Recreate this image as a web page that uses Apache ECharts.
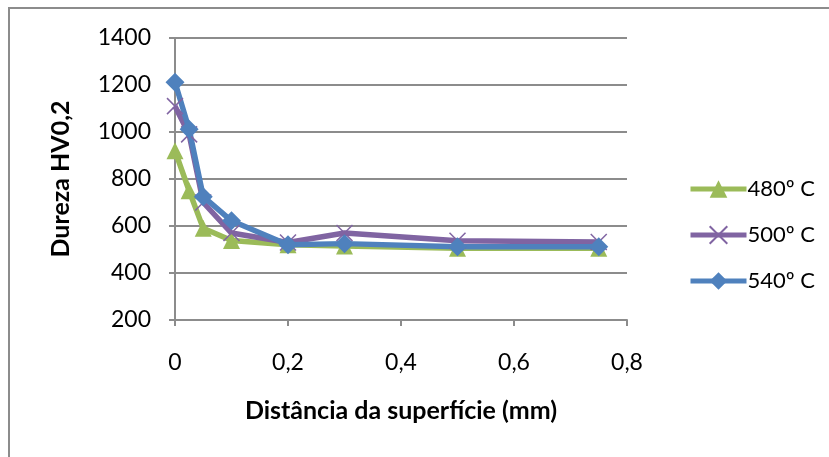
<!DOCTYPE html>
<html>
<head>
<meta charset="utf-8">
<script src="https://cdn.jsdelivr.net/npm/echarts@6/dist/echarts.min.js"></script>
<style>
html,body{margin:0;padding:0;background:#fff;}
#c{width:829px;height:457px;}
</style>
</head>
<body>
<div id="c"></div>
<script>
const xValues = [0, 0.025, 0.05, 0.1, 0.2, 0.3, 0.5, 0.75];
const s480 = [920, 750, 590, 538, 520, 515, 505, 505];
const s500 = [1110, 990, 700, 570, 530, 570, 537, 532];
const s540 = [1212, 1012, 725, 622, 520, 525, 512, 512];
const seriesNames = ['480º C', '500º C', '540º C'];
const yTicks = [200, 400, 600, 800, 1000, 1200, 1400];
const xTicks = [0, 0.2, 0.4, 0.6, 0.8];

const pair = arr => xValues.map((x, i) => [x, arr[i]]);
const FONT = 'Lato';
const crossPath = 'path://M0,0L10,10M10,0L0,10';

const chart = echarts.init(document.getElementById('c'));
chart.setOption({
  animation: false,
  backgroundColor: '#fff',
  textStyle: { fontFamily: FONT },
  graphic: [{
    type: 'rect', shape: { x: 9, y: 8, width: 840, height: 470 },
    style: { fill: 'none', stroke: '#8c8c8c', lineWidth: 2 }, silent: true
  }],
  grid: { left: 175, right: 202, top: 38, bottom: 137 },
  legend: {
    orient: 'vertical', left: 683, top: 173,
    itemWidth: 56, itemHeight: 22, itemGap: 24,
    lineStyle: { width: 5 },
    textStyle: { fontFamily: FONT, fontSize: 22, color: '#000', padding: [0,0,0,-4] },
    data: seriesNames
  },
  xAxis: {
    type: 'value', min: xTicks[0], max: xTicks[xTicks.length-1], interval: 0.2,
    name: 'Distância da superfície (mm)', nameLocation: 'middle', nameGap: 78,
    nameTextStyle: { fontFamily: FONT, fontWeight: 'bold', fontSize: 25, color: '#000' },
    axisLine: { lineStyle: { color: '#8c8c8c', width: 2 } },
    axisTick: { show: true, length: 6, lineStyle: { color: '#8c8c8c', width: 2 } },
    axisLabel: { margin: 31, fontSize: 23, color: '#000', fontFamily: FONT,
      formatter: v => String(+v.toFixed(1)).replace('.', ',') },
    splitLine: { show: false }
  },
  yAxis: {
    type: 'value', min: yTicks[0], max: yTicks[yTicks.length-1], interval: 200,
    name: 'Dureza HV0,2', nameLocation: 'middle', nameGap: 102, nameRotate: 90,
    nameTextStyle: { fontFamily: FONT, fontWeight: 'bold', fontSize: 25, color: '#000' },
    axisLine: { show: true, lineStyle: { color: '#8c8c8c', width: 2 } },
    axisTick: { show: true, length: 6, lineStyle: { color: '#8c8c8c', width: 2 } },
    axisLabel: { margin: 24, fontSize: 23, color: '#000', fontFamily: FONT,
      formatter: v => String(v) },
    splitLine: { lineStyle: { color: '#8c8c8c', width: 2 } }
  },
  series: [
    { name: seriesNames[0], type: 'line', data: pair(s480),
      symbol: 'triangle', symbolSize: 17,
      lineStyle: { color: '#9BBB59', width: 5.5 },
      itemStyle: { color: '#9BBB59' } },
    { name: seriesNames[1], type: 'line', data: pair(s500),
      symbol: crossPath, symbolSize: 16,
      lineStyle: { color: '#8064A2', width: 5.5 },
      itemStyle: { color: '#8064A2', borderColor: '#8064A2', borderWidth: 1.5 } },
    { name: seriesNames[2], type: 'line', data: pair(s540),
      symbol: 'diamond', symbolSize: 19,
      lineStyle: { color: '#4F81BD', width: 5.5 },
      itemStyle: { color: '#4F81BD' } }
  ]
});
</script>
</body>
</html>
